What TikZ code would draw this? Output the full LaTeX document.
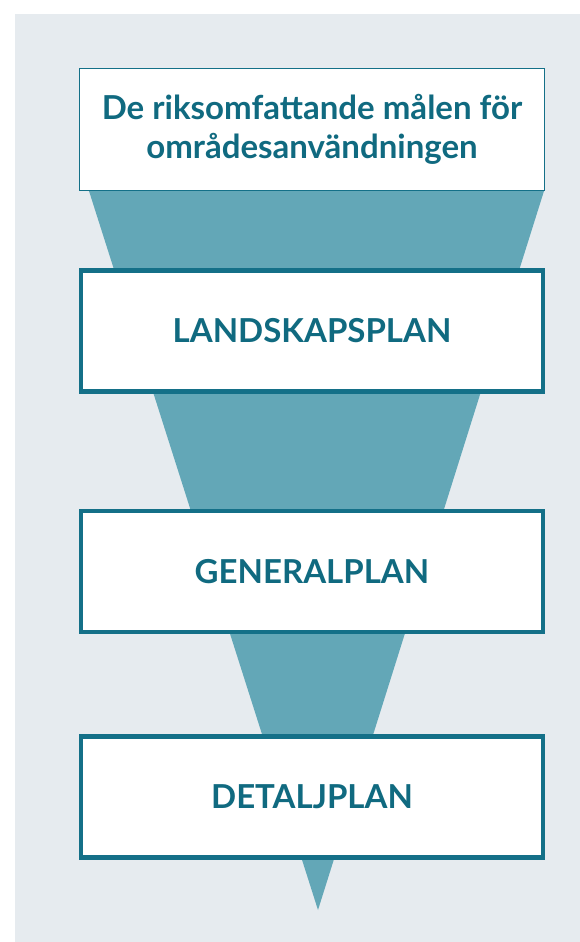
\documentclass[tikz,border=0pt]{standalone}
\usepackage{fontspec}
\setmainfont{Lato}
\usetikzlibrary{positioning,backgrounds}

\definecolor{fondo}{RGB}{230,235,239}
\definecolor{embudo}{RGB}{99,167,183}
\definecolor{marco}{RGB}{20,112,136}
\definecolor{texto}{RGB}{16,106,128}

\begin{document}
\begin{tikzpicture}[x=1pt,y=-1pt,
	caja/.style={draw=marco, fill=white, line width=4.5pt, minimum width=462pt, minimum height=121pt, inner sep=0pt, text=texto, font=\bfseries\fontsize{33}{39}\selectfont},
	cajatop/.style={caja, line width=1pt, minimum width=465pt, minimum height=122pt, align=center}
]

	\def\wMax{580}
	\def\hMax{942}

	%CAJAS
	\node[cajatop, anchor=north west] (metas) at (79,68) {De riksomfattande målen för\\områdesanvändningen};
	\node[caja, below=77pt of metas] (landskap) {LANDSKAPSPLAN};
	\node[caja, below=115pt of landskap] (general) {GENERALPLAN};
	\node[caja, below=100pt of general] (detalj) {DETALJPLAN};

	%FONDO Y EMBUDO
	\coordinate (punta) at (318,910);
	\begin{scope}[on background layer]
		\fill[white] (0,0) rectangle (\wMax,\hMax);
		\fill[fondo] (15,14) rectangle (\wMax,\hMax);
		\fill[embudo] ([xshift=10pt]metas.south west) -- ([xshift=-1pt]metas.south east) -- (punta) -- cycle;
	\end{scope}
	\useasboundingbox (0,0) rectangle (\wMax,\hMax);

\end{tikzpicture}
\end{document}
